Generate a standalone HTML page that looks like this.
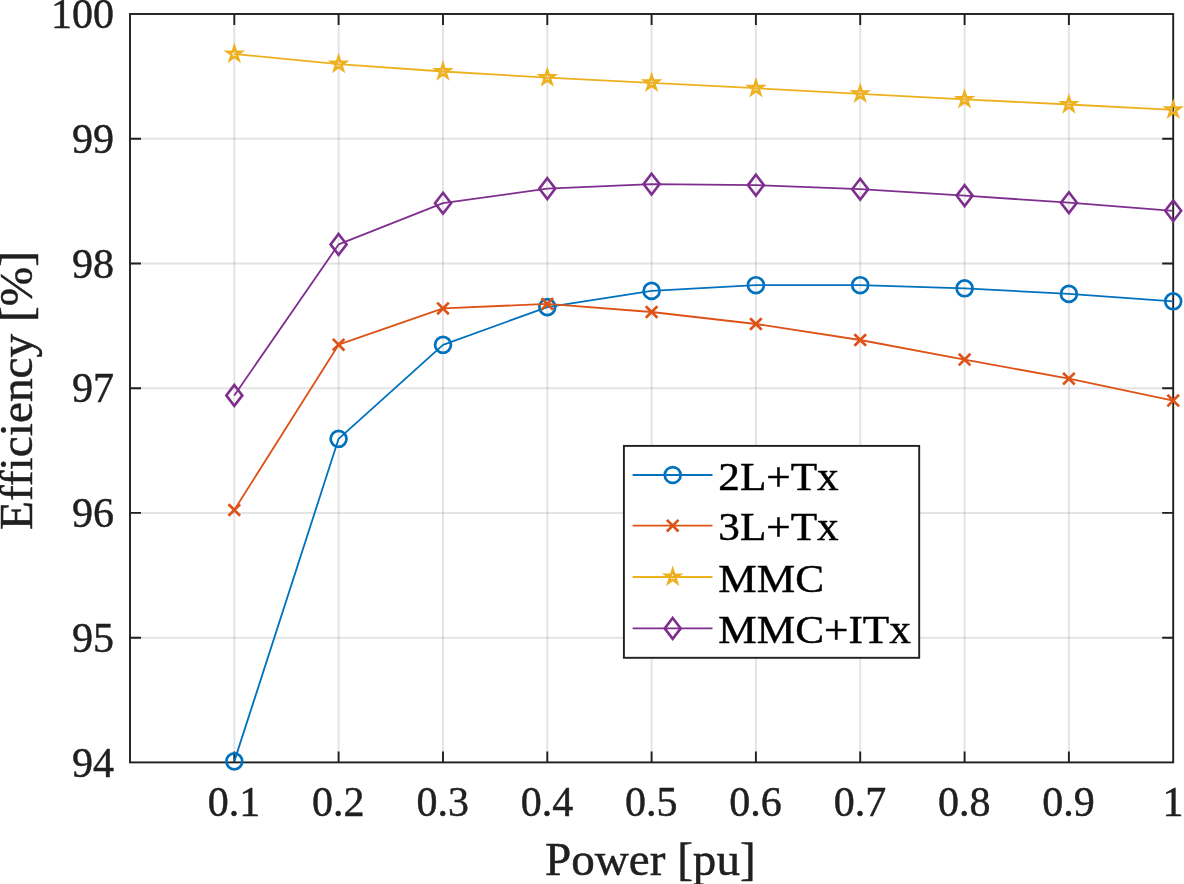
<!DOCTYPE html>
<html lang="en"><head><meta charset="utf-8"><title>Efficiency vs Power</title>
<style>html,body{margin:0;padding:0;background:#fff}body{width:1184px;height:884px;overflow:hidden}svg{display:block}</style>
</head><body>
<svg width="1184" height="884" viewBox="0 0 1184 884">
<rect width="1184" height="884" fill="#fff"/>
<path d="M234.3 14.0V762.4M338.6 14.0V762.4M443.0 14.0V762.4M547.3 14.0V762.4M651.6 14.0V762.4M755.9 14.0V762.4M860.2 14.0V762.4M964.6 14.0V762.4M1068.9 14.0V762.4" stroke="#26263a" stroke-opacity="0.125" stroke-width="2.0" fill="none"/>
<path d="M130.0 637.7H1173.2M130.0 512.9H1173.2M130.0 388.2H1173.2M130.0 263.5H1173.2M130.0 138.7H1173.2" stroke="#26263a" stroke-opacity="0.125" stroke-width="2.0" fill="none"/>
<path d="M234.3 762.4v-11M234.3 14.0v11M338.6 762.4v-11M338.6 14.0v11M443.0 762.4v-11M443.0 14.0v11M547.3 762.4v-11M547.3 14.0v11M651.6 762.4v-11M651.6 14.0v11M755.9 762.4v-11M755.9 14.0v11M860.2 762.4v-11M860.2 14.0v11M964.6 762.4v-11M964.6 14.0v11M1068.9 762.4v-11M1068.9 14.0v11M130.0 637.7h11M1173.2 637.7h-11M130.0 512.9h11M1173.2 512.9h-11M130.0 388.2h11M1173.2 388.2h-11M130.0 263.5h11M1173.2 263.5h-11M130.0 138.7h11M1173.2 138.7h-11" stroke="#202020" stroke-width="1.9" fill="none"/>
<rect x="130.0" y="14.0" width="1043.2" height="748.4" fill="none" stroke="#202020" stroke-width="1.9"/>
<polyline points="234.3,761.4 338.6,438.8 443.0,344.8 547.3,307.1 651.6,290.9 755.9,285.2 860.2,285.2 964.6,288.3 1068.9,293.9 1173.2,301.3" fill="none" stroke="#0072BD" stroke-width="1.8" stroke-linejoin="round"/>
<circle cx="234.3" cy="761.4" r="7.95" fill="none" stroke="#0072BD" stroke-width="2.7"/><circle cx="338.6" cy="438.8" r="7.95" fill="none" stroke="#0072BD" stroke-width="2.7"/><circle cx="443.0" cy="344.8" r="7.95" fill="none" stroke="#0072BD" stroke-width="2.7"/><circle cx="547.3" cy="307.1" r="7.95" fill="none" stroke="#0072BD" stroke-width="2.7"/><circle cx="651.6" cy="290.9" r="7.95" fill="none" stroke="#0072BD" stroke-width="2.7"/><circle cx="755.9" cy="285.2" r="7.95" fill="none" stroke="#0072BD" stroke-width="2.7"/><circle cx="860.2" cy="285.2" r="7.95" fill="none" stroke="#0072BD" stroke-width="2.7"/><circle cx="964.6" cy="288.3" r="7.95" fill="none" stroke="#0072BD" stroke-width="2.7"/><circle cx="1068.9" cy="293.9" r="7.95" fill="none" stroke="#0072BD" stroke-width="2.7"/><circle cx="1173.2" cy="301.3" r="7.95" fill="none" stroke="#0072BD" stroke-width="2.7"/>
<polyline points="234.3,510.0 338.6,344.7 443.0,308.4 547.3,303.9 651.6,312.0 755.9,324.0 860.2,340.0 964.6,359.6 1068.9,378.7 1173.2,400.6" fill="none" stroke="#DD5317" stroke-width="1.8" stroke-linejoin="round"/>
<path d="M228.5 504.2L240.1 515.8M228.5 515.8L240.1 504.2" stroke="#DD5317" stroke-width="2.7" fill="none"/><path d="M332.8 338.9L344.4 350.5M332.8 350.5L344.4 338.9" stroke="#DD5317" stroke-width="2.7" fill="none"/><path d="M437.2 302.6L448.8 314.2M437.2 314.2L448.8 302.6" stroke="#DD5317" stroke-width="2.7" fill="none"/><path d="M541.5 298.1L553.1 309.7M541.5 309.7L553.1 298.1" stroke="#DD5317" stroke-width="2.7" fill="none"/><path d="M645.8 306.2L657.4 317.8M645.8 317.8L657.4 306.2" stroke="#DD5317" stroke-width="2.7" fill="none"/><path d="M750.1 318.2L761.7 329.8M750.1 329.8L761.7 318.2" stroke="#DD5317" stroke-width="2.7" fill="none"/><path d="M854.4 334.2L866.0 345.8M854.4 345.8L866.0 334.2" stroke="#DD5317" stroke-width="2.7" fill="none"/><path d="M958.8 353.8L970.4 365.4M958.8 365.4L970.4 353.8" stroke="#DD5317" stroke-width="2.7" fill="none"/><path d="M1063.1 372.9L1074.7 384.5M1063.1 384.5L1074.7 372.9" stroke="#DD5317" stroke-width="2.7" fill="none"/><path d="M1167.4 394.8L1179.0 406.4M1167.4 406.4L1179.0 394.8" stroke="#DD5317" stroke-width="2.7" fill="none"/>
<polyline points="234.3,54.0 338.6,64.1 443.0,71.5 547.3,77.6 651.6,82.8 755.9,88.2 860.2,93.8 964.6,99.4 1068.9,104.5 1173.2,109.8" fill="none" stroke="#EDB120" stroke-width="1.8" stroke-linejoin="round"/>
<path d="M234.32 42.60L236.88 50.48L245.16 50.48L238.46 55.35L241.02 63.22L234.32 58.35L227.62 63.22L230.18 55.35L223.48 50.48L231.76 50.48ZM234.32 50.80L235.04 53.01L237.36 53.01L235.48 54.38L236.20 56.59L234.32 55.22L232.44 56.59L233.16 54.38L231.28 53.01L233.60 53.01Z" fill="#EDB120" fill-rule="evenodd" stroke="none"/><path d="M338.64 52.70L341.20 60.58L349.48 60.58L342.78 65.45L345.34 73.32L338.64 68.45L331.94 73.32L334.50 65.45L327.80 60.58L336.08 60.58ZM338.64 60.90L339.36 63.11L341.68 63.11L339.80 64.48L340.52 66.69L338.64 65.32L336.76 66.69L337.48 64.48L335.60 63.11L337.92 63.11Z" fill="#EDB120" fill-rule="evenodd" stroke="none"/><path d="M442.96 60.10L445.52 67.98L453.80 67.98L447.10 72.85L449.66 80.72L442.96 75.85L436.26 80.72L438.82 72.85L432.12 67.98L440.40 67.98ZM442.96 68.30L443.68 70.51L446.00 70.51L444.12 71.88L444.84 74.09L442.96 72.72L441.08 74.09L441.80 71.88L439.92 70.51L442.24 70.51Z" fill="#EDB120" fill-rule="evenodd" stroke="none"/><path d="M547.28 66.20L549.84 74.08L558.12 74.08L551.42 78.95L553.98 86.82L547.28 81.95L540.58 86.82L543.14 78.95L536.44 74.08L544.72 74.08ZM547.28 74.40L548.00 76.61L550.32 76.61L548.44 77.98L549.16 80.19L547.28 78.82L545.40 80.19L546.12 77.98L544.24 76.61L546.56 76.61Z" fill="#EDB120" fill-rule="evenodd" stroke="none"/><path d="M651.60 71.40L654.16 79.28L662.44 79.28L655.74 84.15L658.30 92.02L651.60 87.15L644.90 92.02L647.46 84.15L640.76 79.28L649.04 79.28ZM651.60 79.60L652.32 81.81L654.64 81.81L652.76 83.18L653.48 85.39L651.60 84.02L649.72 85.39L650.44 83.18L648.56 81.81L650.88 81.81Z" fill="#EDB120" fill-rule="evenodd" stroke="none"/><path d="M755.92 76.80L758.48 84.68L766.76 84.68L760.06 89.55L762.62 97.42L755.92 92.55L749.22 97.42L751.78 89.55L745.08 84.68L753.36 84.68ZM755.92 85.00L756.64 87.21L758.96 87.21L757.08 88.58L757.80 90.79L755.92 89.42L754.04 90.79L754.76 88.58L752.88 87.21L755.20 87.21Z" fill="#EDB120" fill-rule="evenodd" stroke="none"/><path d="M860.24 82.40L862.80 90.28L871.08 90.28L864.38 95.15L866.94 103.02L860.24 98.15L853.54 103.02L856.10 95.15L849.40 90.28L857.68 90.28ZM860.24 90.60L860.96 92.81L863.28 92.81L861.40 94.18L862.12 96.39L860.24 95.02L858.36 96.39L859.08 94.18L857.20 92.81L859.52 92.81Z" fill="#EDB120" fill-rule="evenodd" stroke="none"/><path d="M964.56 88.00L967.12 95.88L975.40 95.88L968.70 100.75L971.26 108.62L964.56 103.75L957.86 108.62L960.42 100.75L953.72 95.88L962.00 95.88ZM964.56 96.20L965.28 98.41L967.60 98.41L965.72 99.78L966.44 101.99L964.56 100.62L962.68 101.99L963.40 99.78L961.52 98.41L963.84 98.41Z" fill="#EDB120" fill-rule="evenodd" stroke="none"/><path d="M1068.88 93.10L1071.44 100.98L1079.72 100.98L1073.02 105.85L1075.58 113.72L1068.88 108.85L1062.18 113.72L1064.74 105.85L1058.04 100.98L1066.32 100.98ZM1068.88 101.30L1069.60 103.51L1071.92 103.51L1070.04 104.88L1070.76 107.09L1068.88 105.72L1067.00 107.09L1067.72 104.88L1065.84 103.51L1068.16 103.51Z" fill="#EDB120" fill-rule="evenodd" stroke="none"/><path d="M1173.20 98.40L1175.76 106.28L1184.04 106.28L1177.34 111.15L1179.90 119.02L1173.20 114.15L1166.50 119.02L1169.06 111.15L1162.36 106.28L1170.64 106.28ZM1173.20 106.60L1173.92 108.81L1176.24 108.81L1174.36 110.18L1175.08 112.39L1173.20 111.02L1171.32 112.39L1172.04 110.18L1170.16 108.81L1172.48 108.81Z" fill="#EDB120" fill-rule="evenodd" stroke="none"/>
<polyline points="234.3,395.4 338.6,244.4 443.0,203.2 547.3,188.6 651.6,184.1 755.9,185.1 860.2,189.2 964.6,195.6 1068.9,202.7 1173.2,210.8" fill="none" stroke="#7E2F8E" stroke-width="1.8" stroke-linejoin="round"/>
<path d="M234.3 385.0L242.3 395.4L234.3 405.8L226.3 395.4Z" fill="none" stroke="#7E2F8E" stroke-width="2.6" stroke-linejoin="miter"/><path d="M338.6 234.0L346.6 244.4L338.6 254.8L330.6 244.4Z" fill="none" stroke="#7E2F8E" stroke-width="2.6" stroke-linejoin="miter"/><path d="M443.0 192.8L451.0 203.2L443.0 213.6L435.0 203.2Z" fill="none" stroke="#7E2F8E" stroke-width="2.6" stroke-linejoin="miter"/><path d="M547.3 178.2L555.3 188.6L547.3 199.0L539.3 188.6Z" fill="none" stroke="#7E2F8E" stroke-width="2.6" stroke-linejoin="miter"/><path d="M651.6 173.7L659.6 184.1L651.6 194.5L643.6 184.1Z" fill="none" stroke="#7E2F8E" stroke-width="2.6" stroke-linejoin="miter"/><path d="M755.9 174.7L763.9 185.1L755.9 195.5L747.9 185.1Z" fill="none" stroke="#7E2F8E" stroke-width="2.6" stroke-linejoin="miter"/><path d="M860.2 178.8L868.2 189.2L860.2 199.6L852.2 189.2Z" fill="none" stroke="#7E2F8E" stroke-width="2.6" stroke-linejoin="miter"/><path d="M964.6 185.2L972.6 195.6L964.6 206.0L956.6 195.6Z" fill="none" stroke="#7E2F8E" stroke-width="2.6" stroke-linejoin="miter"/><path d="M1068.9 192.3L1076.9 202.7L1068.9 213.1L1060.9 202.7Z" fill="none" stroke="#7E2F8E" stroke-width="2.6" stroke-linejoin="miter"/><path d="M1173.2 200.4L1181.2 210.8L1173.2 221.2L1165.2 210.8Z" fill="none" stroke="#7E2F8E" stroke-width="2.6" stroke-linejoin="miter"/>
<g font-family="'Liberation Serif', 'Times New Roman', serif" fill="#202020" stroke="#202020" stroke-width="0.45" style="font-variant-ligatures:none">
<g font-size="42" text-anchor="middle">
<text x="234.0" y="815.8">0.1</text>
<text x="338.3" y="815.8">0.2</text>
<text x="442.7" y="815.8">0.3</text>
<text x="547.0" y="815.8">0.4</text>
<text x="651.3" y="815.8">0.5</text>
<text x="755.6" y="815.8">0.6</text>
<text x="859.9" y="815.8">0.7</text>
<text x="964.3" y="815.8">0.8</text>
<text x="1068.6" y="815.8">0.9</text>
<text x="1172.9" y="815.8">1</text>
</g>
<g font-size="42" text-anchor="end">
<text x="114" y="776.6">94</text>
<text x="114" y="651.9">95</text>
<text x="114" y="527.1">96</text>
<text x="114" y="402.4">97</text>
<text x="114" y="277.7">98</text>
<text x="114" y="152.9">99</text>
<text x="114" y="28.2">100</text>
</g>
<text transform="translate(650.3 874.5) scale(1.02 1)" font-size="46.2" text-anchor="middle">Power [pu]</text>
<text transform="translate(32 390.5) rotate(-90) scale(1.024 1)" font-size="46.2" text-anchor="middle">Efficiency [%]</text>
<rect x="623.9" y="445.9" width="295.3" height="211.9" fill="#fff" stroke="#202020" stroke-width="1.9"/>
<path d="M632.6 475.0H712.5" stroke="#0072BD" stroke-width="1.8"/>
<circle cx="672.7" cy="475.0" r="7.95" fill="none" stroke="#0072BD" stroke-width="2.7"/>
<text transform="translate(718.3 489.6) scale(1.06 1)" font-size="40.8" fill="#000" stroke="#000">2L+Tx</text>
<path d="M632.6 525.7H712.5" stroke="#DD5317" stroke-width="1.8"/>
<path d="M666.9 519.9L678.5 531.5M666.9 531.5L678.5 519.9" stroke="#DD5317" stroke-width="2.7" fill="none"/>
<text transform="translate(718.3 540.3) scale(1.06 1)" font-size="40.8" fill="#000" stroke="#000">3L+Tx</text>
<path d="M632.6 577.0H712.5" stroke="#EDB120" stroke-width="1.8"/>
<path d="M672.70 565.60L675.26 573.48L683.54 573.48L676.84 578.35L679.40 586.22L672.70 581.35L666.00 586.22L668.56 578.35L661.86 573.48L670.14 573.48ZM672.70 573.80L673.42 576.01L675.74 576.01L673.86 577.38L674.58 579.59L672.70 578.22L670.82 579.59L671.54 577.38L669.66 576.01L671.98 576.01Z" fill="#EDB120" fill-rule="evenodd" stroke="none"/>
<text transform="translate(718.3 591.6) scale(1.06 1)" font-size="40.8" fill="#000" stroke="#000">MMC</text>
<path d="M632.6 628.4H712.5" stroke="#7E2F8E" stroke-width="1.8"/>
<path d="M672.7 618.0L680.7 628.4L672.7 638.8L664.7 628.4Z" fill="none" stroke="#7E2F8E" stroke-width="2.6" stroke-linejoin="miter"/>
<text transform="translate(718.3 643.0) scale(1.06 1)" font-size="40.8" fill="#000" stroke="#000">MMC+ITx</text>
</g>
</svg>
</body></html>
